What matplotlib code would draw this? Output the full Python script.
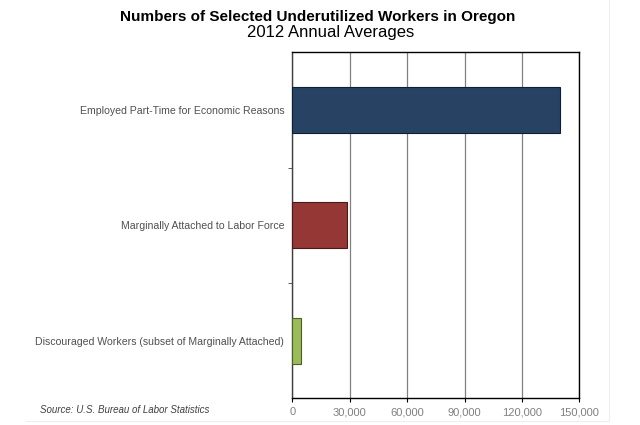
import matplotlib.pyplot as plt
from matplotlib.ticker import FuncFormatter

categories = [
    "Employed Part-Time for Economic Reasons",
    "Marginally Attached to Labor Force",
    "Discouraged Workers (subset of Marginally Attached)",
]
values = [139800, 28300, 4700]
colors = ["#284264", "#953735", "#9bbb59"]
edges = ["#0f1f33", "#4a1a1a", "#4d5e2c"]
xticks = [0, 30000, 60000, 90000, 120000, 150000]

plt.rcParams["font.family"] = ["Liberation Sans", "DejaVu Sans"]

fig = plt.figure(figsize=(6.4, 4.25), dpi=100)
ax = fig.add_axes([0.457, 0.063, 0.448, 0.814])

pos = [2, 1, 0]
ax.barh(pos, values, height=0.4, color=colors, edgecolor=edges, linewidth=0.8, zorder=3)

ax.set_xlim(0, 150000)
ax.set_ylim(-0.5, 2.5)
ax.set_xticks(xticks)
ax.xaxis.set_major_formatter(FuncFormatter(lambda v, p: f"{int(v):,}"))
ax.grid(axis="x", color="#808080", linewidth=0.9, zorder=0)
ax.tick_params(axis="x", length=3, colors="#000000", labelcolor="#808080", labelsize=8)

# category labels, ticks at boundaries
ax.set_yticks(pos)
ax.set_yticklabels(categories, color="#505050", fontsize=7.6)
ax.tick_params(axis="y", length=0, pad=6)
ax.set_yticks([0.5, 1.5], minor=True)
ax.tick_params(axis="y", which="minor", length=3, color="#404040")

for s in ax.spines.values():
    s.set_color("#000000")
    s.set_linewidth(1.0)
ax.spines["left"].set_color("#404040")

fig.text(0.496, 0.959, "Numbers of Selected Underutilized Workers in Oregon",
         ha="center", va="center", fontsize=11, fontweight="bold", color="#000000")
fig.text(0.517, 0.923, "2012 Annual Averages", ha="center", va="center",
         fontsize=12, color="#000000")
fig.text(0.062, 0.036, "Source: U.S. Bureau of Labor Statistics", ha="left", va="center",
         fontsize=7, style="italic", color="#404040")

# faint outer frame
fig.add_artist(plt.Line2D([0.951, 0.951], [0.01, 1.0], color="#eeeeee", linewidth=0.8))
fig.add_artist(plt.Line2D([0.04, 0.951], [0.01, 0.01], color="#eeeeee", linewidth=0.8))

fig.savefig("out.png", dpi=100)
